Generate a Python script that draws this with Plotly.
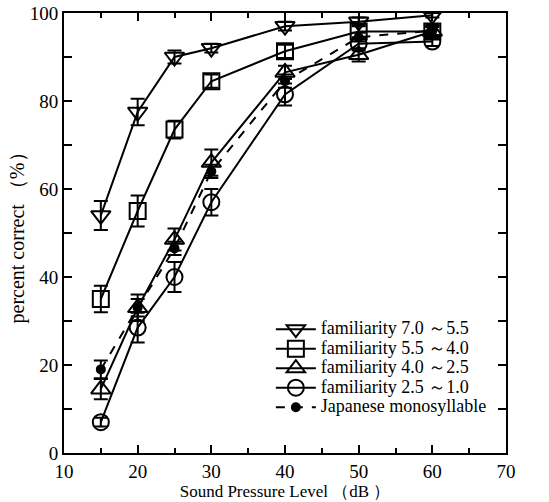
import plotly.graph_objects as go

spl = [15, 20, 25, 30, 40, 50, 60]

fam_70_55 = [54, 77.5, 90, 92, 97, 98, 99.5]
fam_70_55_err = [3.3, 3, 1.5, 1, 1, 1, 0.5]
fam_55_40 = [35, 55, 73.5, 84.5, 91.3, 95.8, 95.8]
fam_55_40_err = [3, 3.5, 2, 1.5, 1.5, 1.5, 1.5]
fam_40_25 = [14.5, 33, 48.5, 66, 86.5, 90.5, 95.8]
fam_40_25_err = [2.3, 3, 2.5, 3, 1.5, 1.5, 1]
fam_25_10 = [7, 28.5, 40, 57, 81.5, 93, 93.5]
fam_25_10_err = [1, 3.4, 3.4, 3, 2.5, 1.5, 1]
jp_mono = [19, 33, 46.5, 64, 84.5, 94.5, 96]
jp_mono_err = [2, 2, 1.5, 1.5, 1.5, 1, 1]

names = ["familiarity 7.0 ～5.5", "familiarity 5.5 ～4.0",
         "familiarity 4.0 ～2.5", "familiarity 2.5 ～1.0",
         "Japanese monosyllable"]

series = [
    (fam_70_55, fam_70_55_err, "triangle-down-open", 17, "solid"),
    (fam_55_40, fam_55_40_err, "square-open", 16, "solid"),
    (fam_40_25, fam_40_25_err, "triangle-up-open", 17, "solid"),
    (fam_25_10, fam_25_10_err, "circle-open", 16, "solid"),
    (jp_mono, jp_mono_err, "circle", 8, "dash"),
]

font_fam = "Liberation Serif, Times New Roman, serif"

fig = go.Figure()
for (ys, es, sym, sz, dash), nm in zip(series, names):
    fig.add_trace(go.Scatter(
        x=spl, y=ys,
        name='<span style="font-size:18px;font-family:Liberation Serif,serif">' + nm + '</span>',
        mode="lines+markers",
        line=dict(color="black", width=2, dash=dash),
        marker=dict(symbol=sym, size=sz, color="black",
                    line=dict(color="black", width=2)),
        error_y=dict(type="data", array=es, visible=True,
                     color="black", thickness=2, width=7),
    ))

fig.update_layout(
    width=549, height=502,
    margin=dict(l=64, r=43, t=13, b=49, autoexpand=False),
    paper_bgcolor="white", plot_bgcolor="white",
    font=dict(family=font_fam, color="black", size=16),
    showlegend=True,
    legend=dict(x=0.468, y=0.315, xanchor="left", yanchor="top",
                bgcolor="rgba(0,0,0,0)", font=dict(size=12.7, family=font_fam),
                tracegroupgap=0, itemwidth=40),
)
fig.update_xaxes(
    range=[10, 70], dtick=10, tick0=10, automargin=False,
    showline=True, linecolor="black", linewidth=2, mirror="ticks",
    ticks="inside", ticklen=8, tickwidth=1.5, tickcolor="black",
    minor=dict(dtick=5, ticks="inside", ticklen=5, tickwidth=1.5, tickcolor="black"),
    showgrid=False, zeroline=False,
    tickfont=dict(size=19),
    title=dict(text="Sound Pressure Level （dB ）", font=dict(size=17), standoff=0),
)
fig.update_yaxes(
    range=[0, 100], tickvals=[0, 20, 40, 60, 80, 100], automargin=False,
    showline=True, linecolor="black", linewidth=2, mirror="ticks",
    ticks="inside", ticklen=8, tickwidth=1.5, tickcolor="black",
    minor=dict(dtick=10, ticks="inside", ticklen=8, tickwidth=1.5, tickcolor="black"),
    showgrid=False, zeroline=False,
    tickfont=dict(size=19),
    title=dict(text="percent correct （%）", font=dict(size=20), standoff=0),
)

fig.write_html("out.html", config={"displayModeBar": False},
               post_script="document.body.style.margin='0';")
